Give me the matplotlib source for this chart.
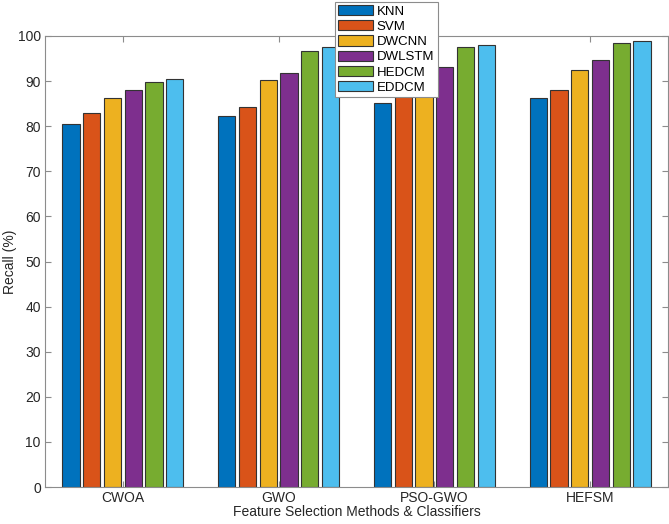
import matplotlib
matplotlib.use('Agg')
import matplotlib.pyplot as plt
import numpy as np

plt.rcParams['font.family'] = ['Liberation Sans', 'DejaVu Sans']

methods = ['CWOA', 'GWO', 'PSO-GWO', 'HEFSM']
classifiers = ['KNN', 'SVM', 'DWCNN', 'DWLSTM', 'HEDCM', 'EDDCM']
knn = [80.4, 82.3, 85.2, 86.3]
svm = [83.0, 84.3, 88.0, 88.1]
dwcnn = [86.3, 90.2, 91.0, 92.5]
dwlstm = [88.0, 91.9, 93.1, 94.7]
hedcm = [89.8, 96.7, 97.5, 98.5]
eddcm = [90.5, 97.5, 97.9, 99.0]
series = [knn, svm, dwcnn, dwlstm, hedcm, eddcm]
colors = ['#0072BD', '#D95319', '#EDB120', '#7E2F8E', '#77AC30', '#4DBEEE']

fig = plt.figure(figsize=(6.69, 5.24), dpi=100)
ax = fig.add_axes([0.0673, 0.0706, 0.9312, 0.8607])

x = np.arange(1, len(methods) + 1)
step = 0.8 / len(series)
for i, (vals, c, name) in enumerate(zip(series, colors, classifiers)):
    ax.bar(x + (i - 2.5) * step, vals, width=0.11, color=c, edgecolor='#333333',
           linewidth=0.8, label=name)

ax.set_xlim(0.5, 4.5)
ax.set_ylim(0, 100)
ax.set_yticks(np.arange(0, 101, 10))
ax.set_xticks(x)
ax.set_xticklabels(methods)
ax.tick_params(direction='in', top=True, right=True, labelsize=10, labelcolor='#262626',
               color='#8c8c8c', length=4, pad=3)
for s in ax.spines.values():
    s.set_color('#8c8c8c')
    s.set_linewidth(0.8)
ax.set_ylabel('Recall (%)', fontsize=10, color='#262626')
ax.yaxis.set_label_coords(-0.045, 0.5)
ax.set_xlabel('Feature Selection Methods & Classifiers', fontsize=10, color='#262626',
              labelpad=0)

leg = fig.legend(loc='upper left', bbox_to_anchor=(0.5, 0.997), fontsize=9.5,
                 handlelength=2.7, handleheight=0.8, labelspacing=0.2,
                 handletextpad=0.25, borderpad=0.25, borderaxespad=0, fancybox=False,
                 framealpha=1, edgecolor='#8c8c8c')
leg.get_frame().set_linewidth(0.8)
for p in leg.get_patches():
    p.set_edgecolor('#333333')

fig.savefig('out.png', dpi=100)
